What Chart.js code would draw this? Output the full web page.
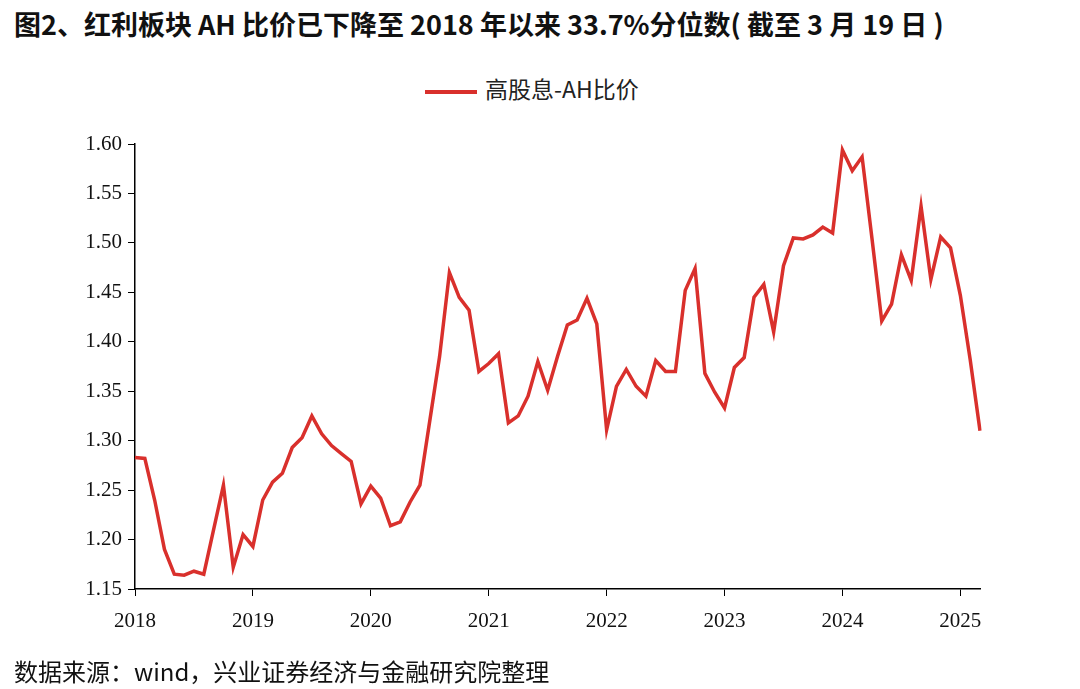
<!DOCTYPE html>
<html>
<head>
<meta charset="utf-8">
<script src="https://cdn.jsdelivr.net/npm/chart.js@4"></script>
<style>
  body { margin: 0; width: 1080px; height: 689px; background: #fff; position: relative; overflow: hidden; }
  #title { position: absolute; left: 14px; top: 4px; font: bold 27px "Noto Sans CJK SC", sans-serif; color: #111; white-space: nowrap; }
  #foot { position: absolute; left: 14px; top: 653px; font: 24px "Noto Sans CJK SC", sans-serif; color: #111; }
  #legend { position: absolute; left: 425px; top: 71px; font: 23px "Noto Sans CJK SC", serif; color: #222; }
  #legend span.ln { display: inline-block; width: 52px; height: 4px; background: #d9302c; vertical-align: middle; margin-right: 8px; }
  #wrap { position: absolute; left: 0; top: 0; width: 1080px; height: 689px; }
</style>
</head>
<body>
<div id="title">图2、红利板块 AH 比价已下降至 2018 年以来 33.7%分位数( 截至 3 月 19 日 )</div>
<div id="legend"><span class="ln"></span>高股息-AH比价</div>
<div id="wrap"><canvas id="c" width="1080" height="689"></canvas></div>
<div id="foot">数据来源：wind，兴业证券经济与金融研究院整理</div>
<script>
// monthly, 2018-01 .. 2025-03
const ratio = [
  1.283, 1.282, 1.240, 1.190, 1.165, 1.164, 1.168, 1.165, 1.210, 1.255, 1.172, 1.205,
  1.193, 1.240, 1.258, 1.267, 1.293, 1.303, 1.325, 1.307, 1.295, 1.287, 1.279, 1.236,
  1.254, 1.242, 1.214, 1.218, 1.238, 1.255, 1.320, 1.385, 1.470, 1.445, 1.432, 1.370,
  1.378, 1.388, 1.318, 1.325, 1.345, 1.380, 1.351, 1.385, 1.417, 1.422, 1.444, 1.418,
  1.311, 1.355, 1.372, 1.355, 1.345, 1.381, 1.370, 1.370, 1.452, 1.474, 1.368, 1.349,
  1.333, 1.374, 1.384, 1.445, 1.458, 1.410, 1.477, 1.505, 1.504, 1.508, 1.516, 1.510,
  1.594, 1.573, 1.587, 1.505, 1.421, 1.438, 1.488, 1.462, 1.537, 1.463, 1.506, 1.495,
  1.447, 1.382, 1.310
];
const years = [2018, 2019, 2020, 2021, 2022, 2023, 2024, 2025];
const months = ratio.map((v, i) => years[0] + Math.floor(i / 12) + "-" + (i % 12 + 1));

const axisFont = { family: "'Liberation Serif', 'Times New Roman', serif", size: 21 };

new Chart(document.getElementById('c'), {
  type: 'line',
  data: {
    labels: months,
    datasets: [{
      label: '高股息-AH比价',
      data: ratio,
      borderColor: '#d9302c',
      borderWidth: 3.5,
      pointRadius: 0,
      tension: 0,
      fill: false
    }]
  },
  options: {
    responsive: false,
    animation: false,
    layout: { padding: { left: 0, right: 100, top: 144, bottom: 0 } },
    plugins: { legend: { display: false }, tooltip: { enabled: false } },
    scales: {
      x: {
        offset: false,
        afterFit: s => { s.height = 100; },
        border: { color: '#000', width: 1.5 },
        grid: {
          drawOnChartArea: false,
          tickLength: 7,
          color: ctx => (ctx.index % 12 === 0 ? '#000' : 'rgba(0,0,0,0)')
        },
        ticks: {
          autoSkip: false,
          maxRotation: 0,
          color: '#111',
          font: axisFont,
          padding: 13,
          callback: (v, i) => (i % 12 === 0 ? years[i / 12] : '')
        }
      },
      y: {
        min: 1.15,
        max: 1.60,
        afterFit: s => { s.width = 135; },
        border: { color: '#000', width: 1.5 },
        grid: { drawOnChartArea: false, tickLength: 7, color: '#000' },
        ticks: {
          stepSize: 0.05,
          color: '#111',
          font: axisFont,
          padding: 6,
          callback: v => v.toFixed(2)
        }
      }
    }
  }
});
</script>
</body>
</html>
